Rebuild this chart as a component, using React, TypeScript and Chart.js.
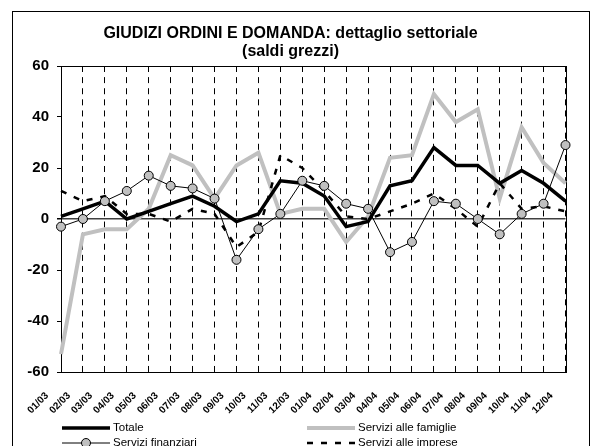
import React, { useEffect, useRef } from "react";
import { Chart, registerables } from "chart.js";

Chart.register(...registerables);

const labels = [
  "01/03", "02/03", "03/03", "04/03", "05/03", "06/03", "07/03", "08/03", "09/03", "10/03", "11/03", "12/03",
  "01/04", "02/04", "03/04", "04/04", "05/04", "06/04", "07/04", "08/04", "09/04", "10/04", "11/04", "12/04",
];
const totale = [1, 4, 7, 0, 3, 6, 9, 5, -1, 2, 15, 14, 9, -3, -1, 13, 15, 28, 21, 21, 14, 19, 14, 7];
const famiglie = [-53, -6, -4, -4, 4, 25, 21, 8, 21, 26, 2, 4, 4, -9, 1, 24, 25, 49, 38, 43, 8, 36, 22, 14];
const finanziari = [-3, 0, 7, 11, 17, 13, 12, 8, -16, -4, 2, 15, 13, 6, 4, -13, -9, 7, 6, 0, -6, 2, 6, 29];
const imprese = [11, 7, 9, 2, 2, -1, 4, 2, -11, -5, 25, 20, 11, 1, 0, 3, 6, 10, 4, -3, 14, 4, 5, 3];
const yTicks = [-60, -40, -20, 0, 20, 40, 60];
const titleLines = ["GIUDIZI ORDINI E DOMANDA: dettaglio settoriale", "(saldi grezzi)"];

const FONT = "'Liberation Sans', Arial, sans-serif";
const GRAY = "#c0c0c0";

const framePlugin = {
  id: "frame",
  beforeDraw(chart: any) {
    const ctx = chart.ctx;
    ctx.save();
    ctx.fillStyle = "#fff";
    ctx.fillRect(0, 0, chart.width, chart.height);
    ctx.strokeStyle = "#000";
    ctx.lineWidth = 1;
    ctx.strokeRect(12.5, 11.5, 577, 460);
    ctx.restore();
  },
  beforeDatasetsDraw(chart: any) {
    const { ctx, chartArea: a } = chart;
    ctx.save();
    ctx.strokeStyle = "#000";
    ctx.lineWidth = 1;
    ctx.strokeRect(Math.round(a.left) + 0.5, Math.round(a.top) + 0.5, Math.round(a.right - a.left), Math.round(a.bottom - a.top));
    ctx.restore();
  },
  afterDraw(chart: any) {
    const ctx = chart.ctx;
    const ds = chart.data.datasets;
    const slots = [
      { i: 0, x: 62, y: 428 },
      { i: 2, x: 307, y: 428 },
      { i: 1, x: 62, y: 443 },
      { i: 3, x: 307, y: 443 },
    ];
    ctx.save();
    slots.forEach((s) => {
      const d: any = ds[s.i];
      ctx.beginPath();
      ctx.strokeStyle = d.borderColor;
      ctx.lineWidth = d.borderWidth;
      ctx.setLineDash(d.borderDash || []);
      ctx.moveTo(s.x, s.y);
      ctx.lineTo(s.x + 48, s.y);
      ctx.stroke();
      ctx.setLineDash([]);
      if (d.pointRadius > 0) {
        ctx.beginPath();
        ctx.arc(s.x + 24, s.y, d.pointRadius, 0, Math.PI * 2);
        ctx.fillStyle = d.pointBackgroundColor;
        ctx.fill();
        ctx.lineWidth = 1;
        ctx.strokeStyle = "#000";
        ctx.stroke();
      }
      ctx.fillStyle = "#000";
      ctx.font = `11.5px ${FONT}`;
      ctx.textBaseline = "middle";
      ctx.textAlign = "left";
      ctx.fillText(d.label, s.x + 51, s.y);
    });
    ctx.restore();
  },
};

export default function App() {
  const ref = useRef<HTMLCanvasElement>(null);
  useEffect(() => {
    if (!ref.current) return;
    const chart = new Chart(ref.current, {
      type: "line",
      data: {
        labels,
        datasets: [
          { label: "Totale", data: totale, borderColor: "#000", borderWidth: 3.5, pointRadius: 0, order: 2 } as any,
          {
            label: "Servizi finanziari", data: finanziari, borderColor: "#000", borderWidth: 1,
            pointRadius: 4.5, pointBackgroundColor: GRAY, pointBorderColor: "#000", pointBorderWidth: 1, order: 0,
          },
          { label: "Servizi alle famiglie", data: famiglie, borderColor: GRAY, borderWidth: 4, pointRadius: 0, order: 3 },
          { label: "Servizi alle imprese", data: imprese, borderColor: "#000", borderWidth: 2.5, borderDash: [6, 8], pointRadius: 0, order: 1 },
        ],
      },
      options: {
        responsive: false,
        animation: false,
        layout: { padding: { left: 0, right: 11, top: 0, bottom: 0 } },
        plugins: {
          legend: { display: false },
          tooltip: { enabled: false },
          title: {
            display: true,
            text: titleLines,
            color: "#000",
            font: { family: FONT, size: 16, weight: "bold", lineHeight: 1.1 },
            padding: { top: 25, bottom: 5.8 },
          },
        },
        scales: {
          x: {
            type: "category",
            offset: false,
            grid: { color: "#000", lineWidth: 1, drawTicks: false },
            border: { display: true, color: "#000", dash: [6, 5.11] },
            ticks: {
              color: "#000",
              font: { family: FONT, size: 10, weight: "bold" },
              maxRotation: 45,
              minRotation: 45,
              autoSkip: false,
              padding: 18,
              labelOffset: -14,
            },
            afterFit: (s: any) => { s.height = 74; },
          },
          y: {
            min: -60,
            max: 60,
            afterBuildTicks: (s: any) => { s.ticks = yTicks.map((v) => ({ value: v })); },
            grid: {
              color: (c: any) => (c.tick && c.tick.value === 0 ? "#404040" : "rgba(0,0,0,0)"),
              lineWidth: (c: any) => (c.tick && c.tick.value === 0 ? 1.5 : 1),
              tickColor: "#000",
              tickLength: 4,
            },
            border: { display: true, color: "#000" },
            ticks: {
              color: "#000",
              font: { family: FONT, size: 15, weight: "bold" },
              padding: 8,
            },
            afterFit: (s: any) => { s.width = 61; },
          },
        },
      },
      plugins: [framePlugin],
    });
    return () => chart.destroy();
  }, []);
  return (
    <div style={{ position: "fixed", left: 0, top: 0, width: 592, height: 446 }}>
      <canvas ref={ref} width={592} height={446} />
    </div>
  );
}
